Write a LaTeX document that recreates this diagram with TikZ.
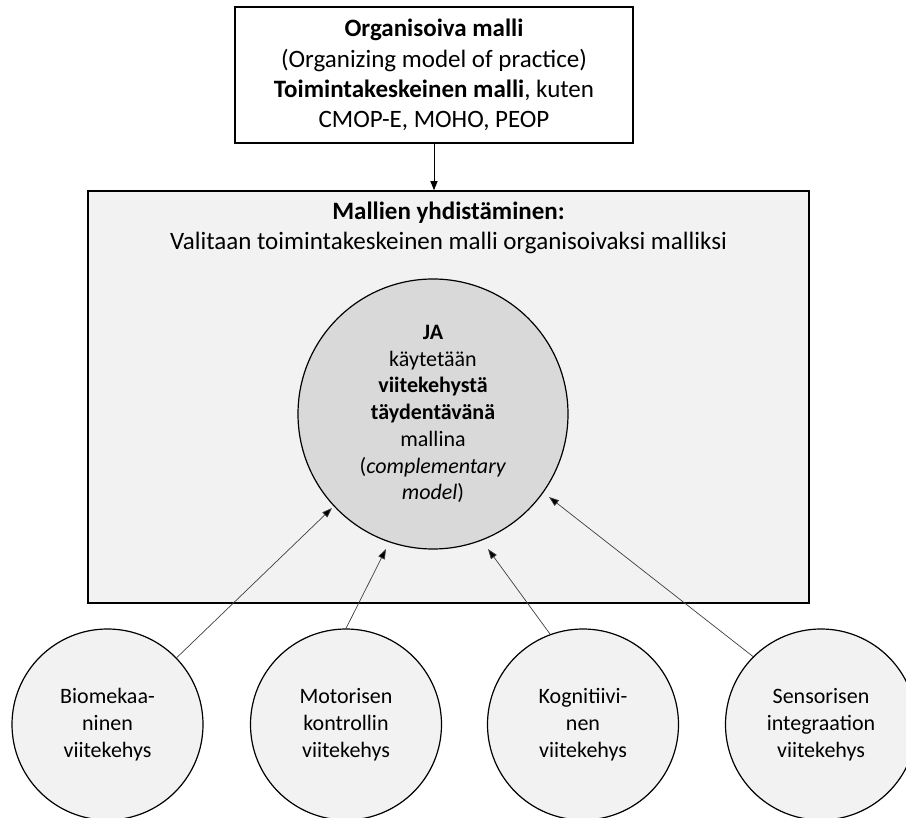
\documentclass[tikz,border=0pt]{standalone}
\usepackage{fontspec}
\setmainfont{Carlito}
\usetikzlibrary{arrows.meta}
\definecolor{panelgray}{HTML}{F2F2F2}
\definecolor{coregray}{HTML}{D9D9D9}
\definecolor{linkgray}{HTML}{3F3F3F}
\begin{document}
\begin{tikzpicture}[x=1pt,y=-1pt,
  topbox/.style={draw=black, line width=1.5pt, fill=white, inner sep=0pt,
    minimum width=398pt, minimum height=136pt, align=center,
    font=\fontsize{25}{30.3}\selectfont},
  panelbox/.style={draw=black, line width=1.5pt, fill=panelgray, inner sep=0pt,
    minimum width=721pt, minimum height=412pt},
  paneltext/.style={align=center, inner sep=0pt, font=\fontsize{25}{30}\selectfont},
  corecircle/.style={circle, draw=black, line width=1.2pt, fill=coregray, inner sep=0pt,
    minimum size=270pt, align=center, font=\fontsize{22}{26.7}\selectfont},
  framecircle/.style={circle, draw=black, line width=1.2pt, fill=panelgray, inner sep=0pt,
    minimum size=191pt, align=center, font=\fontsize{22}{27}\selectfont},
  feed/.style={draw=black, line width=0.8pt, -{Triangle[length=9pt,width=7pt]}},
  link/.style={draw=linkgray, line width=0.7pt, -{Triangle[length=10pt,width=7pt,fill=black]}}
]
\useasboundingbox (0,0) rectangle (906,818);

% organizing model
\node[topbox] (organ) at (434,75)
  {\textbf{Organisoiva malli}\\(Organizing model of practice)\\
   \textbf{Toimintakeskeinen malli}, kuten\\CMOP-E, MOHO, PEOP};

% combining panel
\node[panelbox] (panel) at (448.5,397) {};
\node[paneltext] (paneltitle) at (448.5,228)
  {\textbf{Mallien yhdistäminen:}\\Valitaan toimintakeskeinen malli organisoivaksi malliksi};

\draw[feed] (organ.south) -- (organ.south |- panel.north);

% complementary model
\node[corecircle] (core) at (433,414)
  {\textbf{JA}\\käytetään\\\textbf{viitekehystä}\\\textbf{täydentävänä}\\mallina\\(\textit{complementary}\\\textit{model})};

% frames of reference
\node[framecircle] (bio) at (107.5,724.5) {Biomekaa-\\ninen\\viitekehys};
\node[framecircle] (mot) at (346,724.5) {Motorisen\\kontrollin\\viitekehys};
\node[framecircle] (kog) at (583,724.5) {Kognitiivi-\\nen\\viitekehys};
\node[framecircle] (sen) at (821,724.5) {Sensorisen\\integraation\\viitekehys};

% arrow tips around the complementary model
\coordinate (tipbio) at (332,508);
\coordinate (tipmot) at (386,549);
\coordinate (tipkog) at (488,549);
\coordinate (tipsen) at (549,497);

\draw[link] (bio.44) -- (tipbio);
\draw[link] (mot.90) -- (tipmot);
\draw[link] (kog.110) -- (tipkog);
\draw[link] (sen.135) -- (tipsen);
\end{tikzpicture}
\end{document}
